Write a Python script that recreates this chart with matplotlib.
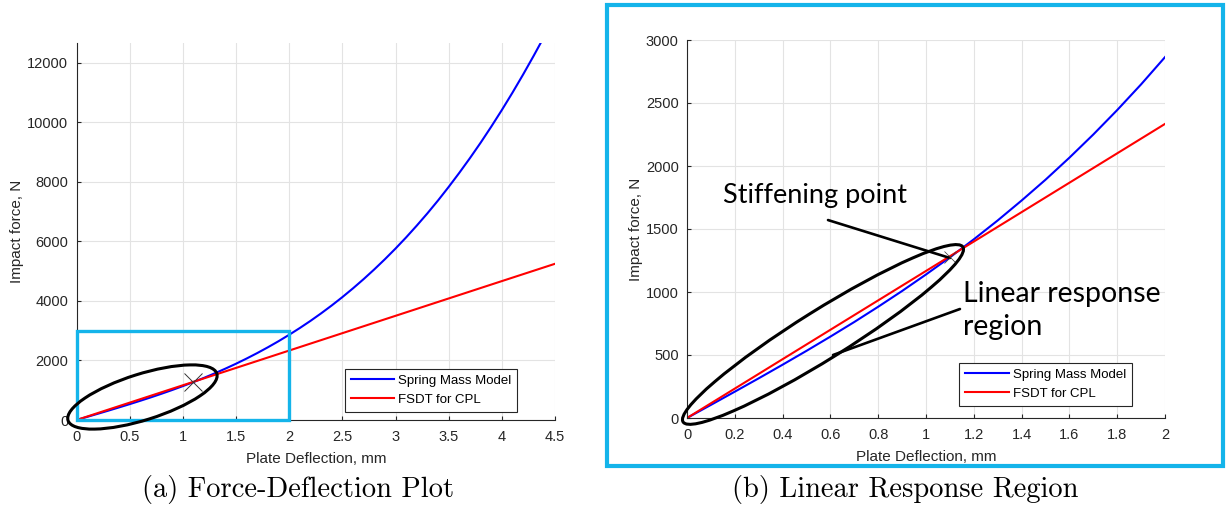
import matplotlib
matplotlib.use("Agg")
import matplotlib.pyplot as plt
from matplotlib.patches import Ellipse, Rectangle
from matplotlib.transforms import IdentityTransform

# ---------------- data ----------------
defl_spring = [0, 0.1, 0.2, 0.3, 0.4, 0.5, 0.6, 0.7, 0.8, 0.9, 1.0, 1.1, 1.2, 1.3,
               1.4, 1.5, 1.6, 1.7, 1.8, 1.9, 2.0, 2.1, 2.2, 2.3, 2.4, 2.5, 2.6,
               2.7, 2.8, 2.9, 3.0, 3.1, 3.2, 3.3, 3.4, 3.5, 3.6, 3.7, 3.8, 3.9,
               4.0, 4.1, 4.2, 4.3, 4.375]
force_spring = [0, 104, 209, 315, 423, 533, 646, 762, 883, 1008, 1139, 1275, 1418,
                1568, 1726, 1891, 2066, 2250, 2444, 2648, 2864, 3091, 3330, 3583,
                3849, 4129, 4424, 4734, 5060, 5402, 5761, 6137, 6533, 6945, 7378,
                7833, 8307, 8801, 9316, 9856, 10417, 11001, 11610, 12244, 12735]
defl_fsdt = [0, 1, 2, 3, 4, 4.5]
force_fsdt = [0, 1167, 2334, 3501, 4668, 5250]

stiff_pt = (1.1, 1280)

left_xticks = [0, 0.5, 1, 1.5, 2, 2.5, 3, 3.5, 4, 4.5]
left_xlabels = ["0", "0.5", "1", "1.5", "2", "2.5", "3", "3.5", "4", "4.5"]
left_yticks = [0, 2000, 4000, 6000, 8000, 10000, 12000]
right_xticks = [0, 0.2, 0.4, 0.6, 0.8, 1, 1.2, 1.4, 1.6, 1.8, 2]
right_xlabels = ["0", "0.2", "0.4", "0.6", "0.8", "1", "1.2", "1.4", "1.6", "1.8", "2"]
right_yticks = [0, 500, 1000, 1500, 2000, 2500, 3000]

zoom_box = (0, 0, 2, 3000)  # x0, y0, x1, y1 of zoom region

# ---------------- styling ----------------
W, H = 1230, 522
DPI = 100
CYAN = "#14B4EA"
AXC = "#262626"
FONT = "Liberation Sans"

fig = plt.figure(figsize=(W / DPI, H / DPI), dpi=DPI)


def px_rect(x0, y_top, x1, y_bot):
    return [x0 / W, (H - y_bot) / H, (x1 - x0) / W, (y_bot - y_top) / H]


def style_axes(ax, xticks, xlabels, yticks):
    for s in ["top", "right"]:
        ax.spines[s].set_visible(False)
    for s in ["left", "bottom"]:
        ax.spines[s].set_color(AXC)
        ax.spines[s].set_linewidth(0.8)
    ax.set_xticks(xticks)
    ax.set_xticklabels(xlabels)
    ax.set_yticks(yticks)
    ax.set_yticklabels([str(v) for v in yticks])
    ax.tick_params(direction="in", length=3, width=0.8, color=AXC,
                   labelcolor=AXC, labelsize=10.5)
    ax.tick_params(axis="x", pad=7)
    ax.tick_params(axis="y", pad=6)
    for lab in ax.get_xticklabels() + ax.get_yticklabels():
        lab.set_fontfamily(FONT)
    ax.grid(True, color="#e3e3e3", linewidth=0.8)
    ax.set_axisbelow(True)
    ax.set_xlabel("Plate Deflection, mm", fontsize=11, family=FONT, color=AXC, labelpad=6)
    ax.set_ylabel("Impact force, N", fontsize=11, family=FONT, color=AXC, labelpad=2)


def draw_lines(ax, anchor):
    ax.plot(defl_spring, force_spring, color="#0000FF", lw=1.5, label="Spring Mass Model")
    ax.plot(defl_fsdt, force_fsdt, color="#FF0000", lw=1.5, label="FSDT for CPL")
    leg = ax.legend(loc="lower right", prop={"family": FONT, "size": 9.5},
                    frameon=True, fancybox=False, edgecolor=AXC, framealpha=1,
                    handlelength=3.3, handletextpad=0.3, borderpad=0.45,
                    labelspacing=0.5, bbox_to_anchor=anchor)
    leg.get_frame().set_linewidth(0.8)


# ---------------- left panel ----------------
axL = fig.add_axes(px_rect(76.5, 43, 555, 420))
draw_lines(axL, (0.935, 0.005))
axL.set_xlim(0, 4.5)
axL.set_ylim(0, 12670)
style_axes(axL, left_xticks, left_xlabels, left_yticks)
axL.add_patch(Rectangle((zoom_box[0], zoom_box[1]), zoom_box[2] - zoom_box[0],
                        zoom_box[3] - zoom_box[1], fill=False, edgecolor=CYAN,
                        lw=2.4, clip_on=False, zorder=5))
axL.plot([stiff_pt[0]], [stiff_pt[1]], marker="x", color="#333333", ms=13, mew=0.7, zorder=6)

# ---------------- right panel ----------------
axR = fig.add_axes(px_rect(687, 40, 1165, 418))
draw_lines(axR, (0.945, 0.015))
axR.set_xlim(0, 2)
axR.set_ylim(0, 3000)
style_axes(axR, right_xticks, right_xlabels, right_yticks)
axR.plot([stiff_pt[0]], [stiff_pt[1]], marker="x", color="#333333", ms=9, mew=0.5, zorder=6)

axR.text(0.151, 1762, "Stiffening point", fontsize=19.5, family="Lato",
         va="center", ha="left", color="black")
axR.text(1.155, 850, "Linear response\nregion", fontsize=20.5, family="Lato",
         va="center", ha="left", color="black", linespacing=1.33)
axR.annotate("", xy=(1.10, 1270), xytext=(0.59, 1571),
             arrowprops=dict(arrowstyle="-", lw=1.9, color="black", shrinkA=0, shrinkB=0))
axR.annotate("", xy=(0.611, 500), xytext=(1.142, 865),
             arrowprops=dict(arrowstyle="-", lw=1.9, color="black", shrinkA=0, shrinkB=0))

fig.canvas.draw()


def px_ellipse(ax, cx, cy, w, h, ang):
    x, y = ax.transData.transform((cx, cy))
    e = Ellipse((x, y), w, h, angle=ang, fill=False, edgecolor="black", lw=2.2,
                transform=IdentityTransform(), zorder=7)
    fig.add_artist(e)


px_ellipse(axL, 0.62, 773, 156, 46, 17.5)
px_ellipse(axR, 0.569, 663, 330, 49, 32)

# cyan frame around right panel
fig.add_artist(Rectangle((607 / W, (H - 466) / H), 616 / W, 461 / H, fill=False,
                         edgecolor=CYAN, lw=3.0, transform=fig.transFigure))

# captions
fig.text(298 / W, 1 - 497 / H, "(a) Force-Deflection Plot", fontsize=20.5,
         family="cmr10", ha="center", va="baseline")
fig.text(905 / W, 1 - 497 / H, "(b) Linear Response Region", fontsize=20.5,
         family="cmr10", ha="center", va="baseline")

fig.savefig("out.png", dpi=DPI)
